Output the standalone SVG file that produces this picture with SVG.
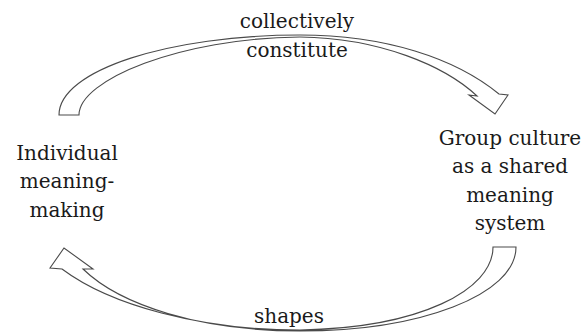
<svg xmlns="http://www.w3.org/2000/svg" width="587" height="336" viewBox="0 0 587 336">
<style>
.t{font-family:"DejaVu Serif","Liberation Serif",serif;font-size:20px;fill:#1a1a1a;text-anchor:middle}
.arr{fill:#fff;stroke:#4a4a4a;stroke-width:1.1;stroke-linejoin:miter}
</style>
<rect width="587" height="336" fill="#fff"/>
<g id="connectors">
<path id="arrow-top" class="arr" d="M59,115 C59,70 170,35 300,35 C385,35 455,58 499,94 L508,95 L495,114 L469,95 L477,96 C445,66 380,38 300,37 C180,38 79,80 79,115 Z"/>
<path id="arrow-bottom" class="arr" d="M516,247 C516,295 420,331 300,331 C200,331 120,305 83,269 L93,269 L64,248 L50,268 L62,269 C110,305 200,330 300,330 C420,328 493,290 493,247 Z"/>
</g>
<g id="label-top">
<text class="t" x="297" y="28">collectively</text>
<text class="t" x="297" y="57">constitute</text>
</g>
<g id="label-bottom">
<text class="t" x="289" y="323">shapes</text>
</g>
<g id="node-individual">
<text class="t" x="67" y="160">Individual</text>
<text class="t" x="67" y="188">meaning-</text>
<text class="t" x="67" y="217">making</text>
</g>
<g id="node-group">
<text class="t" x="510" y="145">Group culture</text>
<text class="t" x="510" y="173">as a shared</text>
<text class="t" x="510" y="202">meaning</text>
<text class="t" x="510" y="230">system</text>
</g>
</svg>
